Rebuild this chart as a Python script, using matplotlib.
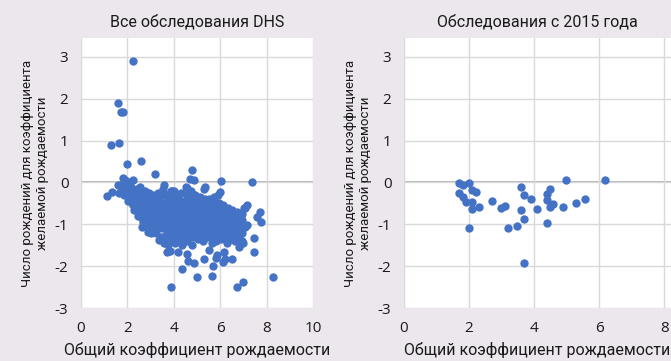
import matplotlib.pyplot as plt

plt.rcParams['axes.unicode_minus'] = False

# all DHS surveys: (total fertility rate, births vs wanted fertility rate)
dhs_all = [
    # outliers
    (2.23, 2.9), (1.58, 1.9), (1.71, 1.68), (1.8, 1.68), (1.3, 0.9), (1.65, 0.93),
    (1.97, 0.44), (2.59, 0.5), (3.19, 0.2), (4.8, 0.3), (4.7, 0.08), (4.85, 0.06),
    (6.03, 0.04), (7.37, 0.02), (2.26, 0.05), (1.8, 0.1), (1.1, -0.32), (1.32, -0.24),
    (1.6, -0.05), (1.62, -0.26), (3.58, -0.07), (3.99, -0.2), (4.56, -0.13), (5.34, -0.12),
    (5.97, -0.24), (7.16, -0.54), (7.7, -0.7), (7.58, -0.82), (7.76, -0.95), (7.15, -1.02),
    (7.08, -1.06), (7.44, -1.32), (7.44, -1.67), (6.93, -1.4), (7.0, -1.44), (6.83, -1.54),
    (7.0, -2.39), (6.72, -2.51), (8.27, -2.27), (5.0, -2.27), (5.64, -2.24), (4.35, -2.07),
    (3.87, -2.49), (4.89, -1.92), (5.28, -1.83), (5.5, -1.62), (5.71, -1.99), (5.8, -1.8),
    (5.85, -1.74), (6.1, -1.9), (6.2, -1.82), (6.5, -1.83), (6.17, -1.67), (4.56, -1.7),
    (4.6, -1.87), (4.2, -1.67), (3.85, -1.64), (3.72, -1.66), (3.65, -1.38), (3.37, -1.38),
    (2.9, -1.18), (2.62, -1.06), (4.78, -1.5), (6.9, -0.72), (7.05, -0.6),
    # main cloud
    (1.72, -0.05), (1.75, -0.15), (1.78, -0.2), (1.85, -0.3), (1.88, 0.05), (1.83, -0.1),
    (1.9, -0.25), (1.95, -0.1), (1.98, -0.2), (2.0, -0.3), (2.05, -0.35), (2.02, -0.45),
    (2.08, 0.0), (2.06, -0.15), (1.96, -0.25), (2.12, -0.2), (2.15, -0.3), (2.18, -0.4),
    (2.2, -0.5), (2.25, -0.55), (2.22, -0.35), (2.14, -0.1), (2.28, -0.65), (2.32, -0.25),
    (2.35, -0.4), (2.4, -0.5), (2.38, -0.6), (2.45, -0.7), (2.42, -0.15), (2.48, -0.45),
    (2.46, -0.8), (2.52, -0.2), (2.55, -0.35), (2.58, -0.5), (2.6, -0.6), (2.62, -0.75),
    (2.65, -0.85), (2.68, -0.95), (2.56, -0.1), (2.64, -0.45), (2.72, -0.3), (2.75, -0.45),
    (2.78, -0.55), (2.8, -0.7), (2.82, -0.8), (2.85, -0.9), (2.76, -1.0), (2.88, -1.1),
    (2.74, -0.2), (2.86, -0.6), (2.92, -0.35), (2.95, -0.5), (2.98, -0.65), (3.0, -0.75),
    (3.02, -0.85), (3.05, -1.0), (3.08, -1.1), (2.94, -0.25), (3.06, -0.55), (3.03, -1.2),
    (3.12, -0.3), (3.15, -0.45), (3.18, -0.6), (3.2, -0.7), (3.22, -0.8), (3.25, -0.95),
    (3.28, -1.05), (3.24, -1.2), (3.14, -0.5), (3.32, -0.25), (3.35, -0.4), (3.38, -0.55),
    (3.4, -0.7), (3.42, -0.85), (3.45, -1.0), (3.48, -1.1), (3.44, -1.3), (3.36, -0.6),
    (3.46, -0.9), (3.52, -0.15), (3.55, -0.3), (3.58, -0.5), (3.6, -0.65), (3.62, -0.8),
    (3.65, -0.95), (3.68, -1.1), (3.66, -1.25), (3.56, -1.45), (3.54, -0.7), (3.72, -0.3),
    (3.75, -0.45), (3.78, -0.6), (3.8, -0.75), (3.82, -0.9), (3.85, -1.05), (3.88, -1.2),
    (3.84, -1.35), (3.76, -1.5), (3.86, -0.2), (3.92, -0.2), (3.95, -0.35), (3.98, -0.55),
    (4.0, -0.7), (4.02, -0.85), (4.05, -1.0), (4.08, -1.15), (4.04, -1.3), (3.96, -0.45),
    (4.06, -1.45), (4.12, -0.3), (4.15, -0.5), (4.18, -0.65), (4.2, -0.8), (4.22, -0.95),
    (4.25, -1.1), (4.28, -1.25), (4.24, -1.4), (4.16, -0.4), (4.32, -0.25), (4.35, -0.45),
    (4.38, -0.6), (4.4, -0.75), (4.42, -0.9), (4.45, -1.05), (4.48, -1.2), (4.44, -1.35),
    (4.36, -1.5), (4.46, -0.55), (4.52, -0.1), (4.55, -0.3), (4.58, -0.5), (4.6, -0.65),
    (4.62, -0.8), (4.65, -0.95), (4.68, -1.1), (4.64, -1.25), (4.56, -1.4), (4.66, -0.4),
    (4.72, -0.2), (4.75, -0.35), (4.78, -0.5), (4.8, -0.7), (4.82, -0.85), (4.85, -1.0),
    (4.88, -1.15), (4.84, -1.3), (4.76, -0.6), (4.86, -0.9), (4.92, -0.3), (4.95, -0.45),
    (4.98, -0.6), (5.0, -0.75), (5.02, -0.9), (5.05, -1.05), (5.08, -1.2), (5.04, -1.35),
    (4.96, -0.5), (5.12, -0.35), (5.15, -0.5), (5.18, -0.65), (5.2, -0.8), (5.22, -0.95),
    (5.25, -1.1), (5.28, -1.25), (5.24, -1.4), (5.16, -0.7), (5.32, -0.15), (5.35, -0.4),
    (5.38, -0.55), (5.4, -0.7), (5.42, -0.85), (5.45, -1.0), (5.48, -1.15), (5.44, -1.3),
    (5.36, -0.6), (5.46, -0.9), (5.52, -0.4), (5.55, -0.55), (5.58, -0.7), (5.6, -0.85),
    (5.62, -1.0), (5.65, -1.15), (5.68, -1.3), (5.64, -1.45), (5.56, -0.5), (5.72, -0.35),
    (5.75, -0.5), (5.78, -0.65), (5.8, -0.8), (5.82, -0.95), (5.85, -1.1), (5.88, -1.25),
    (5.84, -1.4), (5.76, -0.6), (5.92, -0.3), (5.95, -0.5), (5.98, -0.6), (6.0, -0.75),
    (6.02, -0.9), (6.05, -1.05), (6.08, -1.2), (6.04, -1.35), (5.96, -0.85), (6.12, -0.55),
    (6.15, -0.7), (6.18, -0.85), (6.2, -1.0), (6.22, -1.15), (6.25, -1.3), (6.28, -1.45),
    (6.16, -0.9), (6.32, -0.6), (6.35, -0.75), (6.38, -0.9), (6.4, -1.05), (6.42, -1.2),
    (6.45, -1.35), (6.36, -1.0), (6.52, -0.65), (6.55, -0.8), (6.58, -0.95), (6.6, -1.1),
    (6.62, -1.25), (6.65, -1.4), (6.72, -0.7), (6.75, -0.85), (6.78, -1.0), (6.8, -1.15),
    (6.82, -1.3), (6.92, -0.75), (6.95, -0.9), (6.98, -1.05), (7.02, -0.6), (6.96, -1.2),
]
all_tfr = [p[0] for p in dhs_all]
all_gap = [p[1] for p in dhs_all]

# surveys since 2015
recent_tfr = [1.7, 1.8, 2.01, 1.69, 1.8, 1.9, 2.09, 2.2, 2.09, 2.09, 2.3, 2.0,
              2.69, 2.99, 3.09, 3.18, 3.48, 3.59, 3.69, 3.89, 3.59, 3.69, 3.69,
              4.09, 4.39, 4.47, 4.39, 4.47, 4.58, 4.39, 4.88, 4.97, 5.27, 5.57, 6.18]
recent_gap = [-0.02, -0.06, -0.02, -0.26, -0.34, -0.46, -0.18, -0.24, -0.46, -0.64, -0.58, -1.1,
              -0.44, -0.62, -0.56, -1.08, -1.03, -0.12, -0.31, -0.39, -0.66, -0.87, -1.92,
              -0.64, -0.27, -0.16, -0.42, -0.58, -0.51, -0.96, -0.59, 0.05, -0.5, -0.39, 0.05]

titles = ["Все обследования DHS", "Обследования с 2015 года"]
x_label = "Общий коэффициент рождаемости"
y_label = "Число рождений для коэффициента\nжелаемой рождаемости"

bg = "#ece6ed"
blue = "#4472c4"

fig = plt.figure(figsize=(6.71, 3.61), dpi=100, facecolor=bg)
ax1 = fig.add_axes([0.1207, 0.1468, 0.3458, 0.7479])
ax2 = fig.add_axes([0.602, 0.1468, 0.398, 0.7479])

setup = [
    (ax1, all_tfr, all_gap, (0, 10), [0, 2, 4, 6, 8, 10]),
    (ax2, recent_tfr, recent_gap, (0, 8.2), [0, 2, 4, 6, 8]),
]
for i, (ax, xs, ys, xlim, xt) in enumerate(setup):
    ax.set_facecolor("white")
    ax.scatter(xs, ys, s=36, color=blue, linewidths=0, zorder=3)
    ax.set_xlim(*xlim)
    ax.set_ylim(-3, 3.45)
    ax.set_xticks(xt)
    ax.set_yticks([-3, -2, -1, 0, 1, 2, 3])
    ax.grid(True, color="#d9d9d9", lw=1, zorder=0)
    ax.axhline(0, color="#a6a6a6", lw=1.2, zorder=1)
    for s in ax.spines.values():
        s.set_visible(False)
    ax.tick_params(length=0, labelsize=11, pad=9, labelcolor="#1a1a1a")
    for lab in ax.get_xticklabels() + ax.get_yticklabels():
        lab.set_fontfamily("Open Sans")
    ax.set_title(titles[i], fontsize=11.5, family="Roboto", color="#1a1a1a", pad=8)
    ax.set_xlabel(x_label, fontsize=11.5, family="Roboto", color="#1a1a1a", labelpad=5)
    ax.set_ylabel(y_label, fontsize=9.5, family="Roboto", color="#1a1a1a", labelpad=4)

fig.savefig("out.png", dpi=100, facecolor=bg)
